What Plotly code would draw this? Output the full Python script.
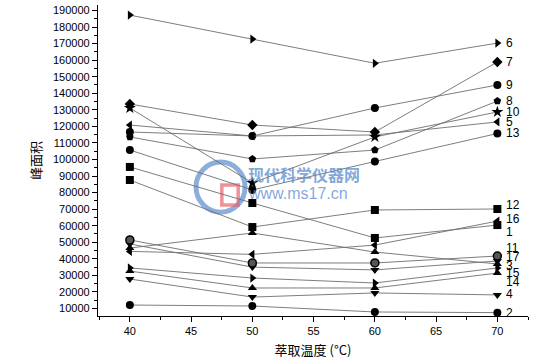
import plotly.graph_objects as go

temps = [40, 50, 60, 70]

series_names = ["6", "7", "9", "8", "10", "5", "13", "12", "16", "1", "11", "17", "3", "15", "14", "4", "2"]
s6 = [187200, 172700, 158100, 170300]
s7 = [133500, 120800, 116600, 158900]
s9 = [116600, 114200, 131100, 145000]
s8 = [113600, 100300, 105700, 135300]
s10 = [131100, 85800, 113600, 128700]
s5 = [120800, 114200, 114800, 122700]
s13 = [105700, 81600, 98800, 115700]
s12 = [87600, 59200, 69500, 70100]
s16 = [44500, 42700, 48300, 62800]
s1 = [95500, 73700, 52600, 60400]
s11 = [49000, 35000, 33300, 38700]
s17 = [51400, 37500, 37500, 41700]
s3 = [46500, 55600, 44100, 36900]
s15 = [34500, 28400, 25400, 34500]
s14 = [32600, 22400, 22400, 31400]
s4 = [27800, 16900, 19400, 18200]
s2 = [12100, 11500, 7900, 7500]

values = [s6, s7, s9, s8, s10, s5, s13, s12, s16, s1, s11, s17, s3, s15, s14, s4, s2]

symbols = ["triangle-right", "diamond", "circle", "pentagon", "star", "triangle-left", "circle",
           "square", "triangle-left", "square", "triangle-down", "circle", "triangle-up",
           "triangle-right", "triangle-up", "triangle-down", "circle"]
# pixel shift of label relative to last marker (positive = up)
label_shift = [0, 0, 0, 0, 0, 0, 0, 4, 2, -7, 13, -1, -2, -5, -9, 1, 0]

fig = go.Figure()
for name, vals, sym in zip(series_names, values, symbols):
    mcolor = "#555555" if name == "17" else "black"
    fig.add_trace(go.Scatter(
        x=temps, y=vals, mode="lines+markers", name=name,
        line=dict(color="#6e6e6e", width=0.9),
        marker=dict(symbol=sym, size=8 if sym != "star" else 9, color=mcolor,
                    line=dict(color="black", width=1.5 if name == "17" else 0)),
        showlegend=False,
    ))

for name, vals, sh in zip(series_names, values, label_shift):
    fig.add_annotation(x=temps[-1], y=vals[-1], xref="x", yref="y", text=name,
                       showarrow=False, xanchor="left", yanchor="middle",
                       xshift=7, yshift=sh,
                       font=dict(family="Liberation Sans, Arial", size=12, color="black"))

# watermark
fig.add_annotation(x=0.355, y=0.455, xref="paper", yref="paper", text="<b>现代科学仪器网</b>",
                   showarrow=False, xanchor="left", yanchor="middle", xshift=-5,
                   font=dict(family="Noto Sans CJK SC", size=16, color="rgba(90,140,205,0.75)"))
fig.add_annotation(x=0.355, y=0.395, xref="paper", yref="paper", text="www.ms17.cn",
                   showarrow=False, xanchor="left", yanchor="middle", xshift=-5,
                   font=dict(family="Liberation Sans, Arial", size=16, color="rgba(90,140,205,0.75)"))
fig.add_shape(type="circle", xref="paper", yref="paper", x0=0.228, x1=0.342, y0=0.334, y1=0.495,
              line=dict(color="rgba(90,140,205,0.7)", width=5), layer="below")
fig.add_shape(type="rect", xref="paper", yref="paper", x0=0.288, x1=0.326, y0=0.357, y1=0.421,
              line=dict(color="rgba(230,100,110,0.7)", width=3.5), layer="below")

fig.update_layout(
    width=554, height=364,
    margin=dict(l=98, r=26, t=5, b=48),
    paper_bgcolor="white", plot_bgcolor="white",
    font=dict(family="Liberation Sans, Arial", size=11, color="black"),
    xaxis=dict(range=[37.4, 72.5], tickvals=[40, 45, 50, 55, 60, 65, 70],
               ticks="outside", ticklen=5, tickwidth=1, tickcolor="black",
               minor=dict(ticks="outside", ticklen=3, dtick=2.5, tick0=0, tickcolor="black"),
               showline=True, linecolor="black", linewidth=1.2, showgrid=False, zeroline=False,
               automargin=False,
               title=dict(text="萃取温度 (°C)", font=dict(family="Noto Sans CJK SC", size=13), standoff=9),
               tickfont=dict(size=11)),
    yaxis=dict(range=[5470, 193300], tick0=10000, dtick=10000, tickformat="d",
               ticks="outside", ticklen=5, tickwidth=1, tickcolor="black",
               minor=dict(ticks="outside", ticklen=3, dtick=5000, tick0=0, tickcolor="black"),
               showline=True, linecolor="black", linewidth=1.2, showgrid=False, zeroline=False,
               automargin=False,
               title=dict(text="峰面积", font=dict(family="Noto Sans CJK SC", size=13), standoff=8),
               tickfont=dict(size=11)),
)

fig.write_html("out.html", post_script="document.body.style.margin='0px';",
               config={"displayModeBar": False})
